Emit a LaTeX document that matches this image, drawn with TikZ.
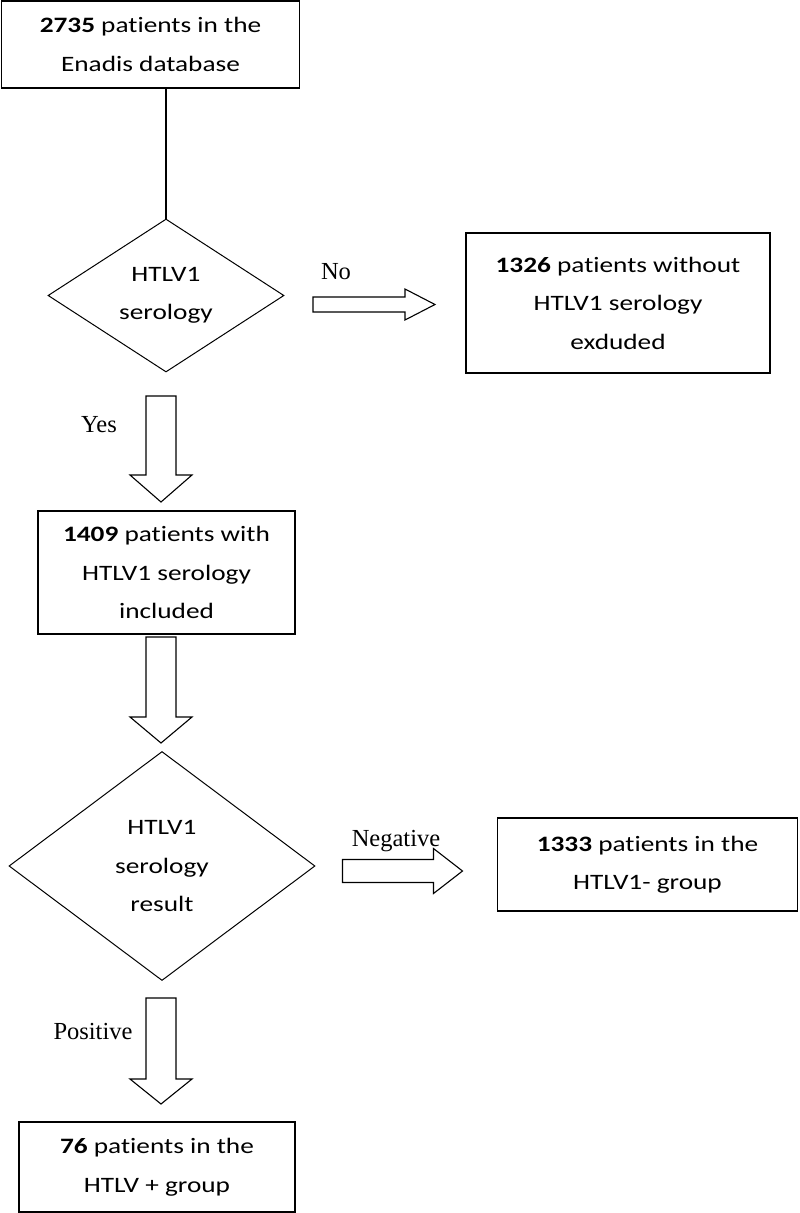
\documentclass[tikz,border=0pt]{standalone}
\usepackage{fontspec}
\setmainfont{Liberation Serif}
\newfontfamily\bodyfont{Carlito}[FakeStretch=1.24, RawFeature={-liga}]
\usetikzlibrary{shapes.geometric}
\tikzset{
  bodytext/.style={align=center, inner sep=0pt, font=\bodyfont\fontsize{22}{38.5}\selectfont},
  boxnode/.style={bodytext, draw, line width=1.3pt},
  decision/.style={bodytext, draw, line width=1pt, diamond, shape aspect=1.5},
  lbl/.style={inner sep=0pt, font=\fontsize{24.5}{28}\selectfont},
  blk/.style={draw, line width=1.1pt, fill=white, line join=miter},
  conn/.style={draw, line width=1.1pt}
}
% right-pointing block arrow: start, shaft length, shaft half width, head half width, head length
\newcommand\myRarrow[5]{%
  \draw[blk] (#1) ++(0,-#3) -- ++(#2,0) -- ++(0,#3-#4) -- ++(#5,#4) -- ++(-#5,#4) -- ++(0,#3-#4) -- ++(-#2,0) -- cycle;}
% down-pointing block arrow
\newcommand\myDarrow[5]{%
  \draw[blk] (#1) ++(-#3,0) -- ++(0,#2) -- ++(#3-#4,0) -- ++(#4,#5) -- ++(#4,-#5) -- ++(#3-#4,0) -- ++(0,-#2) -- cycle;}
\begin{document}
\begin{tikzpicture}[x=1pt,y=-1pt]
\useasboundingbox (0,0) rectangle (800,1213);

\node[boxnode, minimum width=298, minimum height=87] (start) at (150.5,44.5)
  {\textbf{2735} patients in the\\Enadis database};
\node[decision, minimum width=236, minimum height=153] (d1) at (166,295.5)
  {HTLV1\\serology};
\node[boxnode, minimum width=304, minimum height=140] (excl) at (618,303)
  {\textbf{1326} patients without\\HTLV1 serology\\exduded};
\node[boxnode, minimum width=257, minimum height=123] (incl) at (166.5,572.5)
  {\textbf{1409} patients with\\HTLV1 serology\\included};
\node[decision, minimum width=306, minimum height=229] (d2) at (162,866)
  {HTLV1\\serology\\result};
\node[boxnode, minimum width=300, minimum height=93] (neg) at (647.5,864.5)
  {\textbf{1333} patients in the\\HTLV1- group};
\node[boxnode, minimum width=276, minimum height=90] (pos) at (157,1167)
  {\textbf{76} patients in the\\HTLV + group};

\draw[conn] (start.south -| d1.north) -- (d1.north);

\coordinate (noA) at (313,304.5);
\coordinate (yesA) at (161,396);
\coordinate (inclA) at (161,637);
\coordinate (negA) at (342.5,871);
\coordinate (posA) at (161,998);

\myRarrow{noA}{92}{7.5}{15.5}{30}
\myDarrow{yesA}{79}{15}{31}{27}
\myDarrow{inclA}{80}{15}{31}{26}
\myRarrow{negA}{91}{11.5}{22.5}{29}
\myDarrow{posA}{81}{15}{31}{25}

\node[lbl] (lno) at (336,272) {No};
\node[lbl] (lyes) at (99,425) {Yes};
\node[lbl] (lneg) at (396,841) {Negative};
\node[lbl] (lpos) at (93,1031) {Positive};
\end{tikzpicture}
\end{document}
